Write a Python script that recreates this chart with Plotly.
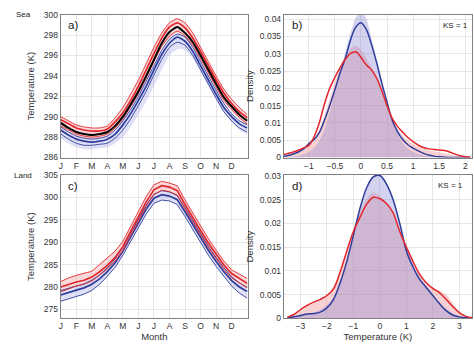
import plotly.graph_objects as go

# ---------------- data ----------------
months = [0, 0.5, 1, 1.5, 2, 2.5, 3, 3.5, 4, 4.5, 5, 5.5, 6, 6.5, 7, 7.5, 8, 8.5, 9, 9.5, 10, 10.5, 11, 11.5, 12]
month_ticks = [0, 1, 2, 3, 4, 5, 6, 7, 8, 9, 10, 11]
month_labels = ["J", "F", "M", "A", "M", "J", "J", "A", "S", "O", "N", "D"]

# Sea (panel a)
sea_obs = [289.4, 288.9, 288.5, 288.3, 288.2, 288.3, 288.5, 289.1, 290.0, 291.2, 292.5, 294.0, 295.6, 297.2, 298.3, 298.8, 298.2, 297.3, 296.0, 294.6, 293.2, 291.9, 291.0, 290.2, 289.6]
sea_red_mean = [289.7, 289.3, 288.9, 288.7, 288.6, 288.6, 288.8, 289.5, 290.4, 291.6, 293.0, 294.6, 296.2, 297.7, 298.8, 299.2, 298.7, 297.7, 296.4, 295.0, 293.6, 292.3, 291.3, 290.5, 289.9]
sea_red_hi = [290.0, 289.6, 289.2, 289.0, 288.9, 288.9, 289.1, 289.9, 290.9, 292.2, 293.6, 295.2, 296.8, 298.2, 299.2, 299.6, 299.2, 298.2, 296.8, 295.4, 294.0, 292.7, 291.7, 290.9, 290.2]
sea_red_lo = [289.1, 288.7, 288.3, 288.1, 288.0, 288.1, 288.3, 288.9, 289.8, 291.0, 292.3, 293.8, 295.4, 296.9, 297.9, 298.4, 297.9, 297.0, 295.7, 294.3, 292.9, 291.6, 290.7, 289.9, 289.3]
sea_blue_mean = [288.7, 288.2, 287.8, 287.6, 287.5, 287.6, 287.8, 288.3, 289.2, 290.3, 291.6, 293.0, 294.6, 296.1, 297.2, 297.8, 297.4, 296.4, 295.0, 293.6, 292.2, 290.9, 290.0, 289.3, 288.9]
sea_blue_hi = [289.0, 288.5, 288.1, 287.9, 287.8, 287.9, 288.1, 288.7, 289.6, 290.7, 292.0, 293.5, 295.0, 296.5, 297.6, 298.1, 297.8, 296.8, 295.4, 294.0, 292.6, 291.3, 290.3, 289.6, 289.2]
sea_blue_lo = [288.3, 287.8, 287.4, 287.2, 287.2, 287.3, 287.4, 287.9, 288.7, 289.8, 291.1, 292.5, 294.1, 295.6, 296.8, 297.3, 297.0, 296.0, 294.6, 293.2, 291.8, 290.5, 289.6, 288.9, 288.5]
sea_band_red_hi = [290.0, 289.6, 289.2, 289.0, 288.9, 288.9, 289.1, 289.9, 290.9, 292.2, 293.6, 295.2, 296.8, 298.2, 299.2, 299.6, 299.2, 298.2, 296.8, 295.4, 294.0, 292.7, 291.7, 290.9, 290.2]
sea_band_red_lo = [288.9, 288.5, 288.1, 287.9, 287.8, 287.9, 288.1, 288.7, 289.6, 290.8, 292.1, 293.6, 295.2, 296.7, 297.7, 298.2, 297.8, 296.9, 295.6, 294.2, 292.8, 291.5, 290.6, 289.8, 289.2]
sea_band_blue_hi = [289.0, 288.5, 288.1, 287.9, 287.8, 287.9, 288.1, 288.7, 289.6, 290.7, 292.0, 293.5, 295.0, 296.5, 297.6, 298.1, 297.8, 296.8, 295.4, 294.0, 292.6, 291.3, 290.3, 289.6, 289.2]
sea_band_blue_lo = [287.9, 287.4, 287.0, 286.8, 286.8, 286.9, 287.0, 287.4, 288.0, 289.0, 290.2, 291.5, 293.0, 294.6, 296.0, 296.6, 296.5, 295.7, 294.4, 293.0, 291.7, 290.4, 289.5, 288.7, 288.3]

# Land (panel c)
land_red_hi = [281.2, 282.0, 282.6, 283.1, 283.5, 285.0, 286.4, 288.0, 290.2, 293.6, 297.0, 300.2, 302.8, 303.6, 303.2, 302.6, 299.4, 296.5, 293.6, 290.8, 288.2, 285.8, 283.8, 282.8, 281.9]
land_red_mean = [280.0, 280.6, 281.1, 281.5, 282.2, 283.4, 284.8, 286.6, 289.0, 292.4, 295.8, 299.0, 301.7, 302.6, 302.3, 301.5, 298.4, 295.4, 292.6, 289.8, 287.2, 284.9, 283.0, 281.8, 280.8]
land_red_lo = [278.9, 279.6, 280.2, 280.6, 281.3, 282.6, 284.0, 285.8, 288.1, 291.4, 294.8, 298.0, 300.6, 301.6, 301.3, 300.5, 297.4, 294.4, 291.6, 288.8, 286.2, 283.9, 282.0, 280.8, 279.8]
land_blue_hi = [279.2, 279.7, 280.2, 280.7, 281.5, 282.7, 284.3, 286.3, 288.9, 292.1, 295.3, 298.3, 300.7, 301.5, 301.2, 300.4, 297.7, 294.8, 291.9, 289.1, 286.6, 284.3, 282.3, 280.9, 279.9]
land_blue_mean = [278.2, 278.8, 279.3, 279.8, 280.6, 281.8, 283.4, 285.4, 288.0, 291.2, 294.4, 297.4, 299.8, 300.6, 300.3, 299.5, 296.8, 293.9, 291.0, 288.2, 285.7, 283.4, 281.4, 280.0, 279.0]
land_blue_lo = [276.8, 277.3, 277.8, 278.4, 279.2, 280.6, 282.4, 284.4, 287.1, 290.2, 293.3, 296.3, 298.7, 299.4, 299.2, 298.4, 295.7, 292.8, 289.9, 287.1, 284.6, 282.3, 280.2, 278.6, 277.5]

# Sea density (panel b)
sea_dx = [-1.5, -1.4, -1.3, -1.2, -1.1, -1.0, -0.9, -0.8, -0.7, -0.6, -0.5, -0.4, -0.3, -0.2, -0.1, 0.0, 0.1, 0.2, 0.3, 0.4, 0.5, 0.6, 0.7, 0.8, 0.9, 1.0, 1.1, 1.2, 1.3, 1.4, 1.5, 1.6, 1.7, 1.8, 1.9, 2.0, 2.1]
sea_blue_line = [0.0003, 0.0006, 0.0010, 0.0016, 0.0025, 0.0040, 0.0052, 0.0072, 0.0108, 0.0150, 0.0196, 0.0245, 0.0287, 0.0340, 0.0377, 0.0390, 0.0371, 0.0328, 0.0275, 0.0215, 0.0160, 0.0108, 0.0075, 0.0052, 0.0037, 0.0027, 0.0019, 0.0012, 0.0007, 0.0004, 0.0002, 0.0001, 0.0, 0.0, 0.0, 0.0, 0.0]
sea_red_line = [0.0008, 0.0012, 0.0016, 0.0021, 0.0028, 0.0035, 0.0060, 0.0100, 0.0155, 0.0200, 0.0232, 0.0260, 0.0284, 0.0301, 0.0306, 0.0290, 0.0268, 0.0254, 0.0230, 0.0193, 0.0150, 0.0113, 0.0090, 0.0073, 0.0058, 0.0046, 0.0036, 0.0029, 0.0025, 0.0023, 0.0022, 0.0020, 0.0016, 0.0010, 0.0005, 0.0002, 0.0001]
sea_red_fill = [0.0006, 0.0009, 0.0013, 0.0018, 0.0025, 0.0034, 0.0052, 0.0082, 0.0122, 0.0170, 0.0218, 0.0258, 0.0290, 0.0314, 0.0324, 0.0312, 0.0288, 0.0262, 0.0228, 0.0186, 0.0145, 0.0110, 0.0083, 0.0064, 0.0050, 0.0040, 0.0033, 0.0027, 0.0022, 0.0018, 0.0015, 0.0012, 0.0009, 0.0006, 0.0004, 0.0002, 0.0001]
sea_blue_fill = [0.0001, 0.0002, 0.0004, 0.0006, 0.0010, 0.0016, 0.0028, 0.0048, 0.0082, 0.0130, 0.0188, 0.0248, 0.0305, 0.0360, 0.0405, 0.0425, 0.0402, 0.0348, 0.0282, 0.0216, 0.0156, 0.0106, 0.0068, 0.0042, 0.0026, 0.0016, 0.0010, 0.0006, 0.0004, 0.0002, 0.0001, 0.0, 0.0, 0.0, 0.0, 0.0, 0.0]

# Land density (panel d)
land_dx = [-3.5, -3.25, -3.0, -2.75, -2.5, -2.25, -2.0, -1.75, -1.5, -1.25, -1.0, -0.75, -0.5, -0.25, 0.0, 0.25, 0.5, 0.75, 1.0, 1.25, 1.5, 1.75, 2.0, 2.25, 2.5, 2.75, 3.0, 3.25, 3.5]
land_blue_line = [0.0001, 0.0003, 0.0006, 0.0009, 0.0010, 0.0013, 0.0022, 0.0040, 0.0075, 0.0120, 0.0175, 0.0232, 0.0275, 0.0298, 0.0301, 0.0283, 0.0250, 0.0200, 0.0142, 0.0108, 0.0082, 0.0065, 0.0048, 0.0031, 0.0016, 0.0007, 0.0003, 0.0001, 0.0]
land_red_line = [0.0002, 0.0008, 0.0018, 0.0027, 0.0034, 0.0040, 0.0048, 0.0062, 0.0098, 0.0142, 0.0183, 0.0213, 0.0240, 0.0255, 0.0252, 0.0242, 0.0222, 0.0183, 0.0150, 0.0120, 0.0093, 0.0075, 0.0063, 0.0054, 0.0040, 0.0025, 0.0012, 0.0004, 0.0001]
land_red_fill = [0.0002, 0.0007, 0.0015, 0.0024, 0.0032, 0.0040, 0.0050, 0.0068, 0.0100, 0.0145, 0.0188, 0.0225, 0.0252, 0.0265, 0.0258, 0.0243, 0.0218, 0.0180, 0.0145, 0.0117, 0.0092, 0.0075, 0.0064, 0.0058, 0.0050, 0.0032, 0.0014, 0.0005, 0.0001]
land_blue_fill = [0.0001, 0.0003, 0.0005, 0.0008, 0.0012, 0.0018, 0.0028, 0.0045, 0.0075, 0.0118, 0.0172, 0.0228, 0.0272, 0.0298, 0.0302, 0.0285, 0.0252, 0.0205, 0.0152, 0.0115, 0.0088, 0.0068, 0.0050, 0.0034, 0.0020, 0.0010, 0.0004, 0.0001, 0.0]

# ---------------- style ----------------
RED = "#e2262b"
BLUE = "#2e3d9c"
PINK_BAND = "rgba(238,120,125,0.28)"
LAV_BAND = "rgba(150,150,222,0.30)"
PINK_FILL = "rgba(236,130,130,0.36)"
LAV_FILL = "rgba(140,140,215,0.38)"
FONT = "Liberation Sans, Arial, sans-serif"
TXT = "#333333"

fig = go.Figure()


def add(x, y, ax, **kw):
    fig.add_trace(go.Scatter(x=x, y=y, xaxis="x" + ax, yaxis="y" + ax,
                             mode="lines", showlegend=False, hoverinfo="skip", **kw))


def band(x, lo, hi, ax, color, shape="spline"):
    add(x, lo, ax, line=dict(width=0, shape=shape))
    add(x, hi, ax, line=dict(width=0, shape=shape), fill="tonexty", fillcolor=color)


# panel a (sea)
band(months, sea_band_red_lo, sea_band_red_hi, "", PINK_BAND)
band(months, sea_band_blue_lo, sea_band_blue_hi, "", LAV_BAND)
for arr, w in [(sea_blue_hi, 0.9), (sea_blue_lo, 0.9), (sea_blue_mean, 1.7)]:
    add(months, arr, "", line=dict(color=BLUE, width=w, shape="spline", smoothing=0.6))
for arr, w in [(sea_red_hi, 0.9), (sea_red_lo, 0.9), (sea_red_mean, 1.7)]:
    add(months, arr, "", line=dict(color=RED, width=w, shape="spline", smoothing=0.6))
add(months, sea_obs, "", line=dict(color="black", width=2, shape="spline", smoothing=0.6))

# panel c (land)
band(months, land_red_lo, land_red_hi, "3", PINK_BAND, shape="linear")
band(months, land_blue_lo, land_blue_hi, "3", LAV_BAND, shape="linear")
for arr, w in [(land_blue_hi, 0.9), (land_blue_lo, 0.9), (land_blue_mean, 1.7)]:
    add(months, arr, "3", line=dict(color=BLUE, width=w))
for arr, w in [(land_red_hi, 0.9), (land_red_lo, 0.9), (land_red_mean, 1.7)]:
    add(months, arr, "3", line=dict(color=RED, width=w))

# panel b (sea density)
add(sea_dx, sea_red_fill, "2", line=dict(width=0, shape="spline"), fill="tozeroy", fillcolor=PINK_FILL)
add(sea_dx, sea_blue_fill, "2", line=dict(width=0, shape="spline"), fill="tozeroy", fillcolor=LAV_FILL)
add(sea_dx, sea_blue_line, "2", line=dict(color=BLUE, width=1.5, shape="spline"))
add(sea_dx, sea_red_line, "2", line=dict(color=RED, width=1.5, shape="spline"))

# panel d (land density)
add(land_dx, land_red_fill, "4", line=dict(width=0, shape="spline"), fill="tozeroy", fillcolor=PINK_FILL)
add(land_dx, land_blue_fill, "4", line=dict(width=0, shape="spline"), fill="tozeroy", fillcolor=LAV_FILL)
add(land_dx, land_blue_line, "4", line=dict(color=BLUE, width=1.5, shape="spline"))
add(land_dx, land_red_line, "4", line=dict(color=RED, width=1.5, shape="spline"))

W, H = 474, 350
dom_x_left = [59 / W, 247 / W]
dom_x_right = [283 / W, 472 / W]
dom_y_top = [1 - 157 / H, 1 - 10 / H]
dom_y_bot = [1 - 322.5 / H, 1 - 175 / H]

axcommon = dict(showgrid=True, gridcolor="#e6e6e6", gridwidth=1, zeroline=False,
                showline=True, linecolor="#808080", linewidth=1, mirror=True,
                ticks="", tickfont=dict(size=8.5, color=TXT, family=FONT))

fig.update_layout(
    width=W, height=H, margin=dict(l=0, r=0, t=0, b=0),
    paper_bgcolor="white", plot_bgcolor="white",
    font=dict(family=FONT, color=TXT),
    xaxis=dict(domain=dom_x_left, anchor="y", range=[0, 12.05], tickvals=month_ticks,
               ticktext=month_labels, **axcommon),
    yaxis=dict(domain=dom_y_top, anchor="x", range=[286, 300], dtick=2,
               title=dict(text="Temperature (K)", font=dict(size=9.5), standoff=7), **axcommon),
    xaxis2=dict(domain=dom_x_right, anchor="y2", range=[-1.48, 2.13],
                tickvals=[-1, -0.5, 0, 0.5, 1, 1.5, 2],
                ticktext=["\u22121", "\u22120.5", "0", "0.5", "1", "1.5", "2"], **axcommon),
    yaxis2=dict(domain=dom_y_top, anchor="x2", range=[0, 0.0413],
                tickvals=[0, 0.005, 0.01, 0.015, 0.02, 0.025, 0.03, 0.035, 0.04],
                ticktext=["0", "0.005", "0.01", "0.015", "0.02", "0.025", "0.03", "0.035", "0.04"],
                title=dict(text="Density", font=dict(size=9.5), standoff=4), **axcommon),
    xaxis3=dict(domain=dom_x_left, anchor="y3", range=[0, 12.05], tickvals=month_ticks,
                ticktext=month_labels,
                title=dict(text="Month", font=dict(size=9.5), standoff=2), **axcommon),
    yaxis3=dict(domain=dom_y_bot, anchor="x3", range=[273, 305], dtick=5,
                title=dict(text="Temperature (K)", font=dict(size=9.5), standoff=7), **axcommon),
    xaxis4=dict(domain=dom_x_right, anchor="y4", range=[-3.63, 3.48],
                tickvals=[-3, -2, -1, 0, 1, 2, 3],
                ticktext=["\u22123", "\u22122", "\u22121", "0", "1", "2", "3"],
                title=dict(text="Temperature (K)", font=dict(size=9.5), standoff=2), **axcommon),
    yaxis4=dict(domain=dom_y_bot, anchor="x4", range=[0, 0.0302],
                tickvals=[0, 0.005, 0.01, 0.015, 0.02, 0.025, 0.03],
                ticktext=["0", "0.005", "0.01", "0.015", "0.02", "0.025", "0.03"],
                title=dict(text="Density", font=dict(size=9.5), standoff=4), **axcommon),
)

annots = [
    dict(text="Sea", x=12 / W, y=1 - 10 / H, size=8),
    dict(text="Land", x=10 / W, y=1 - 175 / H, size=8),
    dict(text="a)", x=64 / W, y=1 - 21 / H, size=11.5),
    dict(text="b)", x=289 / W, y=1 - 21 / H, size=11.5),
    dict(text="c)", x=64 / W, y=1 - 186 / H, size=11.5),
    dict(text="d)", x=289 / W, y=1 - 186 / H, size=11.5),
    dict(text="KS = 1", x=441 / W, y=1 - 21 / H, size=8),
    dict(text="KS = 1", x=436 / W, y=1 - 186 / H, size=8),
]
for a in annots:
    fig.add_annotation(text=a["text"], x=a["x"], y=a["y"], xref="paper", yref="paper",
                       xanchor="left", yanchor="middle", showarrow=False,
                       font=dict(size=a["size"], color="#222", family=FONT))

fig.write_html("out.html")
